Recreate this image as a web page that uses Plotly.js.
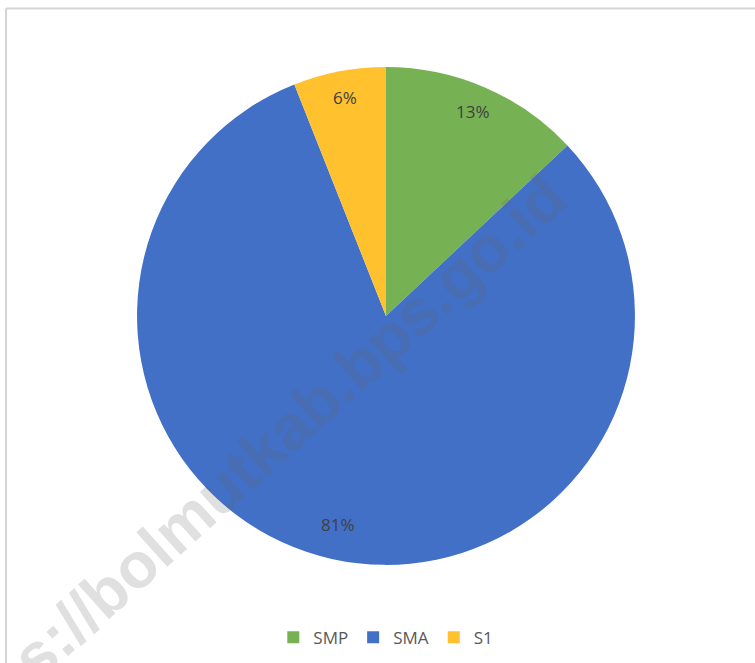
<!DOCTYPE html>
<html>
<head>
<meta charset="utf-8">
<script src="https://cdn.plot.ly/plotly-3.0.1.min.js"></script>
<style>
html,body{margin:0;padding:0;background:#fff;}
#chart{width:755px;height:663px;}
</style>
</head>
<body>
<div id="chart"></div>
<script>
const categories = ["SMP", "SMA", "S1"];
const values = [13, 81, 6];
const percentLabels = ["13%", "81%", "6%"];
const colors = ["#76B254", "#4170C6", "#FFC12E"];
const watermark = "https://bolmutkab.bps.go.id";

const W = 755, H = 663;
const domainX = [0.1815, 0.841];
const domainY = [0.148, 0.899];

const trace = {
  type: "pie",
  labels: categories,
  values: values,
  textinfo: "none",
  sort: false,
  direction: "clockwise",
  rotation: 0,
  marker: {colors: colors, line: {width: 0}},
  domain: {x: domainX, y: domainY},
  hoverinfo: "label+percent"
};

// label annotations placed along each slice bisector (Excel-style)
const total = values.reduce((a, b) => a + b, 0);
const cx = (domainX[0] + domainX[1]) / 2 * W;
const cy = (domainY[0] + domainY[1]) / 2 * H;
const R = Math.min((domainX[1] - domainX[0]) * W, (domainY[1] - domainY[0]) * H) / 2;
let cum = 0;
const labelAnns = values.map((v, i) => {
  const mid = (cum + v / 2) / total * 2 * Math.PI;
  cum += v;
  const rr = 0.875 * R;
  const px = cx + rr * Math.sin(mid);
  const py = cy + rr * Math.cos(mid) + 4;
  return {
    text: percentLabels[i],
    xref: "paper", yref: "paper",
    x: px / W, y: py / H,
    xanchor: "center", yanchor: "middle",
    showarrow: false,
    font: {family: "Open Sans, sans-serif", size: 17, color: "#404040"}
  };
});

const layout = {
  width: W,
  height: H,
  margin: {l: 0, r: 0, t: 0, b: 0, autoexpand: false},
  paper_bgcolor: "#ffffff",
  showlegend: true,
  legend: {
    orientation: "h",
    x: 0.511, xanchor: "center",
    y: 0.038, yanchor: "middle",
    font: {family: "Open Sans, sans-serif", size: 17, color: "#595959"},
    itemwidth: 30,
    tracegroupgap: 0
  },
  shapes: [
    {type: "line", xref: "paper", yref: "paper", x0: 0.008, x1: 0.008, y0: 0, y1: 0.987, line: {color: "#D4D4D4", width: 2}},
    {type: "line", xref: "paper", yref: "paper", x0: 0.008, x1: 1, y0: 0.987, y1: 0.987, line: {color: "#D4D4D4", width: 2}}
  ],
  annotations: labelAnns.concat([{
    text: watermark,
    xref: "paper", yref: "paper",
    x: 244 / W, y: 1 - 468 / H,
    xanchor: "center", yanchor: "middle",
    showarrow: false,
    textangle: -42,
    font: {family: "Liberation Sans, Arial, sans-serif", size: 64, color: "rgba(100,100,100,0.2)", weight: "bold"}
  }])
};

Plotly.newPlot("chart", [trace], layout, {displayModeBar: false, staticPlot: true});
</script>
</body>
</html>
